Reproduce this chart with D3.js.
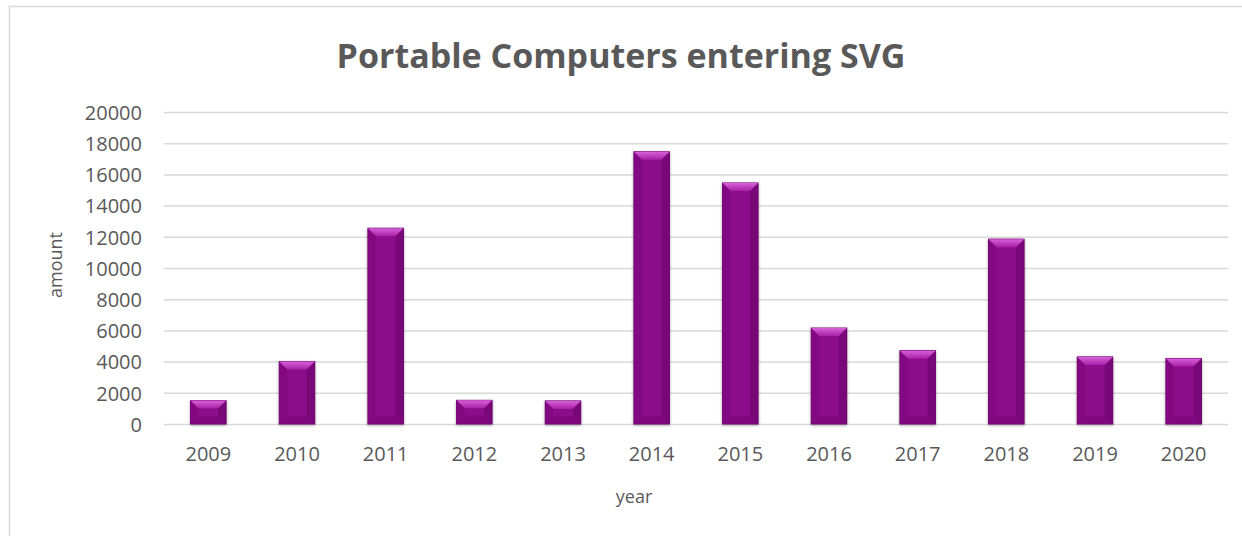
<!DOCTYPE html>
<html>
  <head>
    <meta charset="utf-8">
    <script src="https://d3js.org/d3.v7.min.js"></script>
    <title>Portable Computers entering SVG</title>
    <style>
      body {
        margin: 0px;
        background: #fff;
      }
      text {
        font-family: 'Open Sans', sans-serif;
        fill: #595959;
      }
      .domain {
        display: none;
      }
      .tick line {
        stroke: #d9d9d9;
        stroke-width: 1.5;
      }
      .tick text {
        font-size: 20px;
      }
    </style>
  </head>
  <body>
    <svg width="1242" height="536"></svg>
    <script>
      const years = ['2009', '2010', '2011', '2012', '2013', '2014',
                     '2015', '2016', '2017', '2018', '2019', '2020'];
      const amounts = [1500, 4000, 12550, 1520, 1480, 17450,
                       15450, 6150, 4700, 11850, 4300, 4200];
      const yTicks = [0, 2000, 4000, 6000, 8000, 10000,
                      12000, 14000, 16000, 18000, 20000];

      const data = years.map((year, i) => ({ year, amount: amounts[i] }));

      const margin = { left: 164, right: 14, top: 112, bottom: 112 };
      const svg = d3.select('svg');
      const width = +svg.attr('width');
      const height = +svg.attr('height');
      const innerWidth = width - margin.left - margin.right;
      const innerHeight = height - margin.top - margin.bottom;

      // chart area border: only the left and top edges are inside the frame
      svg.append('path')
          .attr('d', `M9.5,${height} L9.5,6.5 L${width},6.5`)
          .attr('fill', 'none')
          .attr('stroke', '#d9d9d9')
          .attr('stroke-width', 1.5);

      const x = d3.scaleBand()
        .domain(years)
        .range([0, innerWidth])
        .paddingInner(0.6)
        .paddingOuter(0.3);

      const y = d3.scaleLinear()
        .domain([0, 20000])
        .range([innerHeight, 0]);

      const g = svg.append('g')
          .attr('transform', `translate(${margin.left},${margin.top})`);

      g.append('g')
          .call(d3.axisLeft(y).tickValues(yTicks).tickFormat(d3.format('d'))
            .tickSize(-innerWidth).tickPadding(22))
          .call(a => a.selectAll('.tick text').attr('dy', '0.36em'));

      g.append('g')
          .attr('transform', `translate(0,${innerHeight})`)
          .call(d3.axisBottom(x).tickSize(0).tickPadding(23))
          .call(a => a.selectAll('.tick text').attr('dy', '0.72em'));

      const defs = svg.append('defs');
      const shadow = defs.append('filter')
          .attr('id', 'shadow')
          .attr('x', '-20%').attr('y', '-5%')
          .attr('width', '140%').attr('height', '115%');
      shadow.append('feGaussianBlur')
          .attr('in', 'SourceAlpha')
          .attr('stdDeviation', 1.5);
      shadow.append('feOffset').attr('dx', 0).attr('dy', 1).attr('result', 'b');
      shadow.append('feComponentTransfer').append('feFuncA')
          .attr('type', 'linear').attr('slope', 0.35);
      const merge = shadow.append('feMerge');
      merge.append('feMergeNode');
      merge.append('feMergeNode').attr('in', 'SourceGraphic');

      const topGrad = defs.append('linearGradient')
          .attr('id', 'topBevel')
          .attr('x1', 0).attr('y1', 0).attr('x2', 0).attr('y2', 1);
      topGrad.append('stop').attr('offset', '0%').attr('stop-color', '#d860d8');
      topGrad.append('stop').attr('offset', '100%').attr('stop-color', '#a820a8');

      const bw = x.bandwidth();
      const bev = 8;

      const bars = g.selectAll('.bar').data(data)
        .enter().append('g')
          .attr('class', 'bar')
          .attr('transform', d => `translate(${x(d.year)},${y(d.amount)})`);

      bars.append('rect')
          .attr('width', bw)
          .attr('height', d => innerHeight - y(d.amount))
          .attr('fill', '#8b0a8b')
          .attr('stroke', '#6e056e')
          .attr('stroke-width', 1)
          .attr('filter', 'url(#shadow)');

      // left / right bevel
      bars.append('path')
          .attr('d', d => {
            const bh = innerHeight - y(d.amount);
            const h = Math.min(bev, bh / 2);
            return `M0,0 L${h},${h} L${h},${bh - h} L0,${bh} Z`;
          })
          .attr('fill', '#7d087d')
          .attr('opacity', 0.55);
      bars.append('path')
          .attr('d', d => {
            const bh = innerHeight - y(d.amount);
            const h = Math.min(bev, bh / 2);
            return `M${bw},0 L${bw - h},${h} L${bw - h},${bh - h} L${bw},${bh} Z`;
          })
          .attr('fill', '#700570')
          .attr('opacity', 0.7);

      // bottom bevel
      bars.append('path')
          .attr('d', d => {
            const bh = innerHeight - y(d.amount);
            const h = Math.min(bev, bh / 2);
            return `M0,${bh} L${h},${bh - h} L${bw - h},${bh - h} L${bw},${bh} Z`;
          })
          .attr('fill', '#7a067a')
          .attr('opacity', 0.7);

      // top bevel
      bars.append('path')
          .attr('d', d => {
            const h = Math.min(bev, (innerHeight - y(d.amount)) / 2);
            return `M0,0 L${bw},0 L${bw - h},${h} L${h},${h} Z`;
          })
          .attr('fill', 'url(#topBevel)');

      svg.append('text')
          .attr('x', width / 2)
          .attr('y', 68)
          .attr('text-anchor', 'middle')
          .style('font-size', '34px')
          .style('font-weight', 'bold')
          .text('Portable Computers entering SVG');

      svg.append('text')
          .attr('x', 634)
          .attr('y', 503)
          .attr('text-anchor', 'middle')
          .style('font-size', '18px')
          .text('year');

      svg.append('text')
          .attr('transform', 'translate(62,265) rotate(-90)')
          .attr('text-anchor', 'middle')
          .style('font-size', '18px')
          .text('amount');
    </script>
  </body>
</html>
